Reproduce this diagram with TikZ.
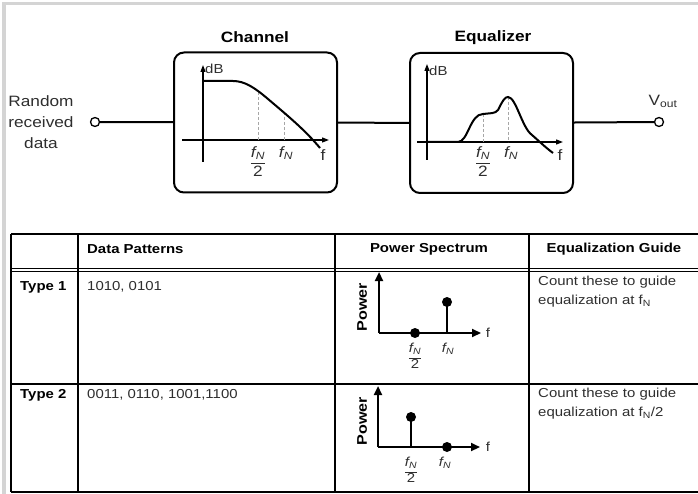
\documentclass[tikz,border=0pt]{standalone}
\usepackage{fontspec}
\setmainfont[FakeStretch=1.15]{Liberation Sans}
\usetikzlibrary{arrows.meta}
\definecolor{txt}{HTML}{2E2E2E}
\definecolor{frame}{HTML}{D4D4D4}
\newcommand{\fN}{{\itshape f}\textsubscript{\itshape N}}
\newcommand{\fNhalf}{$\displaystyle\frac{\hbox{\fN}}{\hbox{2}}$}
\newcommand{\bigsz}{\fontsize{15}{21}\selectfont}
\newcommand{\midsz}{\fontsize{13}{18.5}\selectfont}
\begin{document}
\begin{tikzpicture}[x=1pt,y=-1pt,
  blk/.style={draw,line width=2pt,rounded corners=10pt,minimum width=163pt,minimum height=140pt},
  term/.style={circle,draw,line width=1.3pt,fill=white,minimum size=9pt,inner sep=0pt},
  wire/.style={line width=2pt},
  ax/.style={line width=1.2pt,-{Triangle[length=7pt,width=5pt]}},
  pax/.style={line width=2.2pt,-{Triangle[length=9pt,width=8pt]}},
  curve/.style={line width=2pt},
  guide/.style={densely dashed,gray!70,line width=0.6pt},
  lbl/.style={inner sep=0pt,text=txt,font=\bigsz},
  small/.style={inner sep=0pt,text=txt,font=\midsz},
  title/.style={inner sep=0pt,font=\bigsz\bfseries},
  hdr/.style={inner sep=0pt,font=\midsz\bfseries},
  tline/.style={line width=1.2pt},
  dot/.style={circle,fill,inner sep=0pt,minimum size=10pt}]
\useasboundingbox (0,0) rectangle (698,494);
% gray frame
\fill[frame] (2,2) rectangle (698,5);
\fill[frame] (2,2) rectangle (6,494);

% ---------- block diagram ----------
\node[lbl,align=center] (src) at (41,122) {Random\\received\\data};
\node[term] (in) at (95,122) {};
\node[blk] (ch) at (255.5,122.5) {};
\node[blk] (eq) at (491.5,123) {};
\node[term] (out) at (659,122) {};
\node[title] (cht) at (255,37) {Channel};
\node[title] (eqt) at (493,38) {Equalizer};
\node[lbl] (vout) at (663,101) {V\textsubscript{out}};
\draw[wire] (in) -- (ch);
\draw[wire] (ch) -- (eq);
\draw[wire] (eq) -- (out);

% channel plot
\draw[ax] (203,162) -- (203,65);
\draw[ax] (182,140) -- (329,140);
\node[lbl,font=\fontsize{13}{15}\selectfont,anchor=west] (chdb) at (205,69) {dB};
\draw[guide] (258,92) -- (258,140);
\draw[guide] (284,112) -- (284,140);
\draw[curve] (203,81) -- (233,81) .. controls (245,81) and (255,88) .. (268,99)
  .. controls (288,116) and (305,130) .. (320,148);
\node[lbl,anchor=north] (chh) at (258,146) {\fNhalf};
\node[lbl,anchor=north] (chn) at (286,146) {\fN};
\node[lbl] (chf) at (323,155) {f};

% equalizer plot
\draw[ax] (427,160) -- (427,64);
\draw[ax] (417,142) -- (563,142);
\node[lbl,font=\fontsize{13}{15}\selectfont,anchor=west] (eqdb) at (429,71) {dB};
\draw[guide] (483,114) -- (483,142);
\draw[guide] (508,97) -- (508,142);
\draw[curve] (427,142) -- (458,142) .. controls (468,142) and (470,114) .. (483,114)
  .. controls (490,113) and (495,114) .. (498,110)
  .. controls (503,100) and (505,97) .. (508,97)
  .. controls (516,97) and (522,128) .. (532,135)
  .. controls (540,142) and (545,147) .. (553,153);
\node[lbl,anchor=north] (eqh) at (483,146) {\fNhalf};
\node[lbl,anchor=north] (eqn) at (511,146) {\fN};
\node[lbl] (eqf) at (560,155) {f};

% ---------- table ----------
\draw[tline] (11,234) -- (698,234);
\draw[line width=1pt] (11,268.5) -- (698,268.5);
\draw[line width=1pt] (11,271.5) -- (698,271.5);
\draw[tline] (11,384) -- (698,384);
\draw[tline] (11,492) -- (698,492);
\foreach \xx in {11,78,335,529} \draw[tline] (\xx,234) -- (\xx,492);

\node[hdr,anchor=west] (h1) at (87,249) {Data Patterns};
\node[hdr] (h2) at (429,249) {Power Spectrum};
\node[hdr] (h3) at (614,249) {Equalization Guide};

\node[hdr,anchor=west] (t1) at (20,287) {Type 1};
\node[small,anchor=west] (p1) at (87,287) {1010, 0101};
\node[small,anchor=north west,align=left] (g1) at (538,276) {Count these to guide\\equalization at f\textsubscript{N}};

\node[hdr,anchor=west] (t2) at (20,395) {Type 2};
\node[small,anchor=west] (p2) at (87,395) {0011, 0110, 1001,1100};
\node[small,anchor=north west,align=left] (g2) at (538,388) {Count these to guide\\equalization at f\textsubscript{N}/2};

% spectrum 1
\draw[pax] (379,333) -- (379,272);
\draw[pax] (379,333) -- (481,333);
\node[hdr,rotate=90,font=\fontsize{14}{16}\selectfont\bfseries] (pw1) at (362,307) {Power};
\draw[line width=2pt] (447,333) -- (447,302);
\node[dot] (d1a) at (415,333) {};
\node[dot] (d1b) at (447,302) {};
\node[small] (f1) at (488,333) {f};
\node[small,anchor=north] (l1a) at (415,343) {\fNhalf};
\node[small,anchor=north] (l1b) at (448,343) {\fN};

% spectrum 2
\draw[pax] (378,447) -- (378,386);
\draw[pax] (378,447) -- (480,447);
\node[hdr,rotate=90,font=\fontsize{14}{16}\selectfont\bfseries] (pw2) at (362,421) {Power};
\draw[line width=2pt] (411,447) -- (411,417);
\node[dot] (d2a) at (411,417) {};
\node[dot] (d2b) at (447,447) {};
\node[small] (f2) at (488,447) {f};
\node[small,anchor=north] (l2a) at (411,457) {\fNhalf};
\node[small,anchor=north] (l2b) at (445,457) {\fN};
\end{tikzpicture}
\end{document}
